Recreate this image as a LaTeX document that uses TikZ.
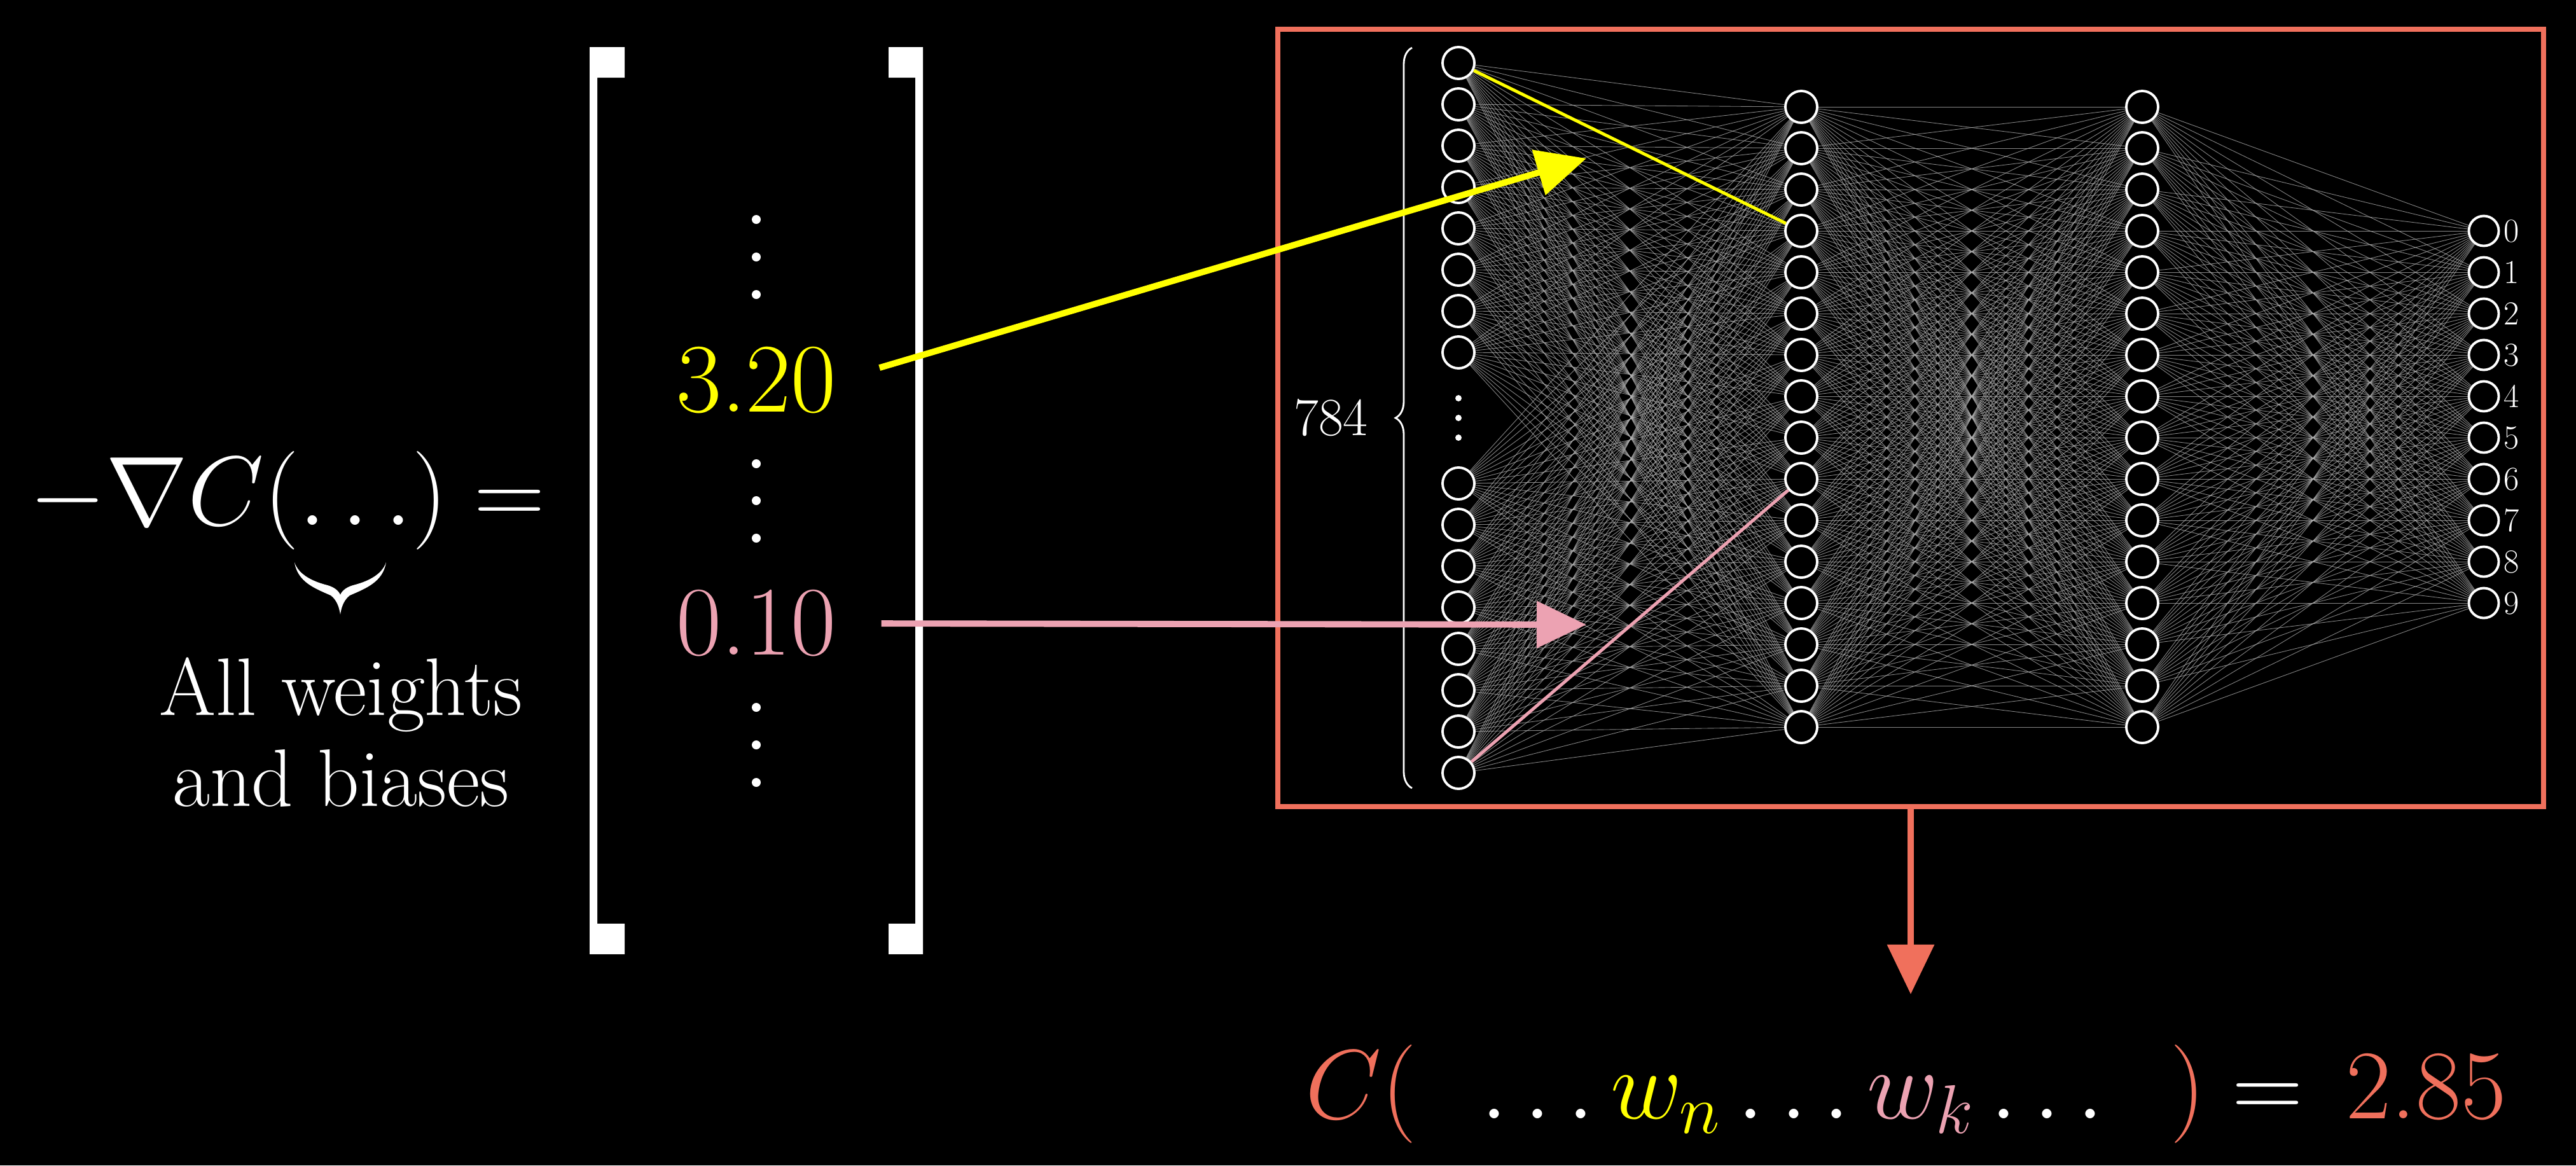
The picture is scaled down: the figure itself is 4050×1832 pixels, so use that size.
\RequirePackage{fix-cm}
\documentclass[tikz,border=0pt]{standalone}
\usepackage{amsmath}
\usepackage{amssymb}
\usepackage{tikz}
\usetikzlibrary{arrows.meta,decorations.pathreplacing}

\definecolor{costred}{RGB}{240,112,92}
\definecolor{wyellow}{RGB}{255,255,0}
\definecolor{wpink}{RGB}{236,162,178}

\begin{document}
\begin{tikzpicture}[x=0.01cm,y=-0.01cm]
	\tikzstyle{neuron}=[circle,draw=white,fill=black,line width=1.1pt,minimum size=0.5cm,inner sep=0pt]
	\tikzstyle{synapse}=[draw=white!70!black,line width=0.25pt,opacity=0.75]
	\tikzstyle{pointer}=[line width=2.8pt,-{Triangle[length=0.78cm,width=0.72cm]}]
	\tikzstyle{big}=[inner sep=0pt,font=\fontsize{44}{53}\selectfont]
	\tikzstyle{dot}=[circle,fill=white,inner sep=0pt,minimum size=0.14cm]

	\fill[black] (0,0) rectangle (4050,1832);

	% gradient side
	\node[big,text=white,anchor=base] (grad) at (452,825) {$-\nabla C(\ldots)=$};
	\fill[white,shift={(535,924)}] (-72,-40) .. controls (-67,-9) and (-40,1) .. (-15,12)
		.. controls (-7,18) and (-2,28) .. (0,42) .. controls (2,28) and (7,18) .. (15,12)
		.. controls (40,1) and (67,-9) .. (72,-40) .. controls (65,-19) and (40,-9) .. (20,-4)
		.. controls (10,-1) and (3,4) .. (0,11) .. controls (-3,4) and (-10,-1) .. (-20,-4)
		.. controls (-40,-9) and (-65,-19) .. (-72,-40) -- cycle;
	\node[text=white,align=center,inner sep=0pt,font=\fontsize{36.5}{40.7}\selectfont] (allwb) at (536,1151) {All weights\\and biases};

	\fill[white] (927,74) rectangle (939,1500) (927,74) rectangle (982,122) (927,1452) rectangle (982,1500);
	\fill[white] (1439,74) rectangle (1451,1500) (1397,74) rectangle (1451,122) (1397,1452) rectangle (1451,1500);
	\foreach \y in {345,404,463,729,787,846,1112,1171,1230}
		\node[dot] at (1189,\y) {};
	\node[big,text=wyellow] (wn) at (1189,598) {3.20};
	\node[big,text=wpink] (wk) at (1189,980) {0.10};

	% the network
	\node[draw=costred,line width=2.3pt,minimum width=19.88cm,minimum height=12.21cm,inner sep=0pt] (net) at (3004,657) {};
	\foreach \i [evaluate=\i as \y using 99+65*(\i-1)] in {1,...,8}
		\node[neuron] (in-\i) at (2293,\y) {};
	\foreach \i [evaluate=\i as \y using 760+65*(\i-9)] in {9,...,16}
		\node[neuron] (in-\i) at (2293,\y) {};
	\foreach \y in {626,657,688}
		\node[dot,minimum size=0.1cm] at (2293,\y) {};
	\foreach \j [evaluate=\j as \y using 168+65*(\j-1)] in {1,...,16} {
		\node[neuron] (ha-\j) at (2832,\y) {};
		\node[neuron] (hb-\j) at (3368,\y) {};
	}
	\foreach \k [evaluate=\k as \y using 363+65*\k] in {0,...,9} {
		\node[neuron,minimum size=0.47cm] (out-\k) at (3905,\y) {};
		\node[text=white,anchor=west,inner sep=0pt,font=\fontsize{15}{18}\selectfont] (digit-\k) at (3936,\y) {\k};
	}
	\foreach \i in {1,...,16}
		\foreach \j in {1,...,16} {
			\draw[synapse] (in-\i) -- (ha-\j);
			\draw[synapse] (ha-\i) -- (hb-\j);
		}
	\foreach \j in {1,...,16}
		\foreach \k in {0,...,9}
			\draw[synapse] (hb-\j) -- (out-\k);

	\draw[white,line width=0.8pt,decorate,decoration={brace,amplitude=0.26cm}] (2220,1239) -- (2220,75)
		node[midway,left=0.68cm,text=white,inner sep=0pt,font=\fontsize{24}{29}\selectfont] (size) {784};

	\draw[wyellow,line width=1.4pt] (in-1) -- (ha-4);
	\draw[wpink,line width=1.4pt] (in-16) -- (ha-10);

	\coordinate (wnto) at (2494,249);
	\coordinate (wkto) at (2494,982);
	\coordinate (costtip) at (3004,1563);
	\draw[pointer,wyellow,shorten <=0.7cm] (wn.east) -- (wnto);
	\draw[pointer,wpink,shorten <=0.7cm] (wk.east) -- (wkto);
	\draw[pointer,costred] (net.south) -- (costtip);

	% cost value
	\node[big,text=costred,anchor=base west] (copen) at (2052,1758) {$C($};
	\node[big,text=white,anchor=base west] (args) at (2328,1758) {$\ldots{\color{wyellow}w_n}\ldots{\color{wpink}w_k}\ldots$};
	\node[big,text=costred,anchor=base west] (cclose) at (3412,1758) {$)$};
	\node[big,text=white,anchor=base west] (ceq) at (3509,1758) {$=$};
	\node[big,text=costred,anchor=base west] (cval) at (3688,1758) {2.85};
\end{tikzpicture}
\end{document}
